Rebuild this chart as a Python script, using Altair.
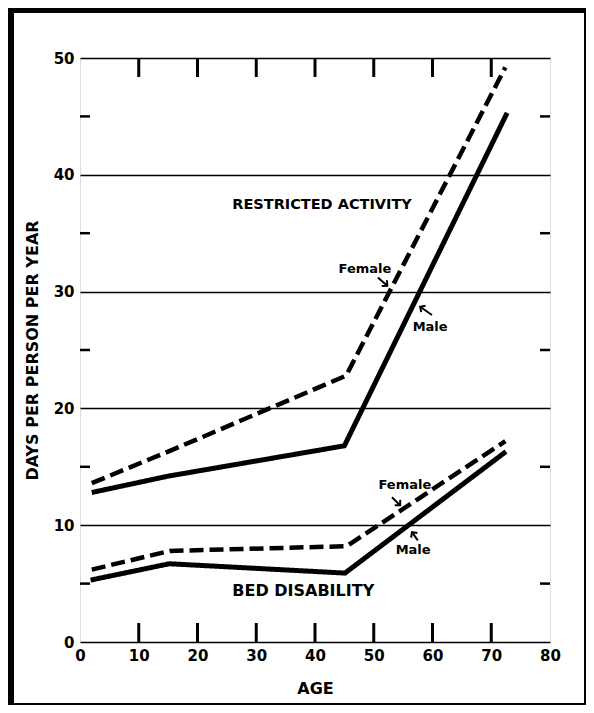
import altair as alt
import pandas as pd

# ---- data ----
ages_rest_male = [2, 15, 45, 72.7]
rest_male = [12.8, 14.2, 16.8, 45.3]
ages_rest_female = [2, 15, 45.3, 72.4]
rest_female = [13.6, 16.3, 22.8, 49.2]
ages_bed_male = [1.8, 15.2, 45.1, 72.5]
bed_male = [5.3, 6.7, 5.9, 16.3]
ages_bed_female = [2, 15.3, 45.4, 72.4]
bed_female = [6.2, 7.8, 8.2, 17.2]

x_labels = [0, 10, 20, 30, 40, 50, 60, 70, 80]
y_labels = [0, 10, 20, 30, 40, 50]
x_minor = [10, 20, 30, 40, 50, 60, 70]
y_minor = [5, 15, 25, 35, 45]

note_text = ["RESTRICTED ACTIVITY", "BED DISABILITY", "Female", "Male", "Female", "Male"]
note_age = [41.2, 38.0, 48.5, 59.6, 55.3, 56.7]
note_val = [37.4, 4.4, 31.9, 27.0, 13.4, 7.9]
note_size = [14.5, 16, 13, 13, 13, 13]

arrow_age = [50.7, 59.9, 53.1, 57.5]
arrow_val = [31.2, 28.0, 12.4, 8.7]
arrow_age2 = [52.3, 57.9, 54.5, 56.5]
arrow_val2 = [30.5, 28.7, 11.7, 9.4]
arrow_angle = [42, 214, 45, 233]

W, H = 470, 584

rows = []
for name, sex, ages, vals in [
    ("Restricted", "Male", ages_rest_male, rest_male),
    ("Restricted", "Female", ages_rest_female, rest_female),
    ("Bed", "Male", ages_bed_male, bed_male),
    ("Bed", "Female", ages_bed_female, bed_female),
]:
    for a, v in zip(ages, vals):
        rows.append({"series": name + " " + sex, "sex": sex, "age": a, "days": v})
lines_df = pd.DataFrame(rows)

xs = alt.Scale(domain=[0, 80], nice=False)
ys = alt.Scale(domain=[0, 50], nice=False)

FONT = "DejaVu Sans"

base_x = alt.X("age:Q", scale=xs, axis=alt.Axis(
    values=x_labels, title="AGE", grid=False, domain=False, tickSize=0,
    labelFont=FONT, labelFontSize=15, labelFontWeight="bold", labelColor="black",
    labelPadding=6, labelFlush=False, labelOverlap=False,
    titleFont=FONT, titleFontSize=16, titleFontWeight="bold", titleColor="black",
    titleX=W / 2, titleY=46, titleBaseline="middle", titleAlign="center"))
base_y = alt.Y("days:Q", scale=ys, axis=alt.Axis(
    values=y_labels, title="DAYS PER PERSON PER YEAR", grid=True, gridColor="black",
    gridWidth=1.6, gridOpacity=1, domain=False, tickSize=0,
    labelFont=FONT, labelFontSize=15, labelFontWeight="bold", labelColor="black",
    labelPadding=6, labelFlush=False, labelOverlap=False,
    titleFont=FONT, titleFontSize=16, titleFontWeight="bold", titleColor="black",
    titleAngle=270, titleX=-48, titleY=H / 2, titleBaseline="middle", titleAlign="center"))

lines = alt.Chart(lines_df).mark_line(color="black", strokeCap="butt", strokeJoin="miter").encode(
    x=base_x, y=base_y,
    detail="series:N",
    order=alt.Order("age:Q"),
    strokeDash=alt.StrokeDash("sex:N", scale=alt.Scale(domain=["Female", "Male"], range=[[14, 6], [1, 0]]), legend=None),
    strokeWidth=alt.StrokeWidth("sex:N", scale=alt.Scale(domain=["Female", "Male"], range=[4.5, 5]), legend=None),
)

xt_df = pd.DataFrame({"age": x_minor})
yt_df = pd.DataFrame({"days": y_minor})
ticks_bottom = alt.Chart(xt_df).mark_rule(color="black", strokeWidth=3).encode(
    x=alt.X("age:Q", scale=xs), y=alt.value(H), y2=alt.value(H - 19))
ticks_top = alt.Chart(xt_df).mark_rule(color="black", strokeWidth=3).encode(
    x=alt.X("age:Q", scale=xs), y=alt.value(0), y2=alt.value(19))
ticks_left = alt.Chart(yt_df).mark_rule(color="black", strokeWidth=2.5).encode(
    y=alt.Y("days:Q", scale=ys), x=alt.value(0), x2=alt.value(10))
ticks_right = alt.Chart(yt_df).mark_rule(color="black", strokeWidth=2.5).encode(
    y=alt.Y("days:Q", scale=ys), x=alt.value(W), x2=alt.value(W - 10))

notes_df = pd.DataFrame({"text": note_text, "age": note_age, "days": note_val, "size": note_size})
notes = alt.Chart(notes_df).mark_text(font=FONT, fontWeight="bold", color="black",
                                      align="center", baseline="middle").encode(
    x=alt.X("age:Q", scale=xs), y=alt.Y("days:Q", scale=ys), text="text:N",
    size=alt.Size("size:Q", scale=None, legend=None))

arr_df = pd.DataFrame({"age": arrow_age, "days": arrow_val, "age2": arrow_age2,
                       "days2": arrow_val2, "angle": arrow_angle})
shafts = alt.Chart(arr_df).mark_rule(color="black", strokeWidth=2).encode(
    x=alt.X("age:Q", scale=xs), y=alt.Y("days:Q", scale=ys), x2="age2:Q", y2="days2:Q")
heads = alt.Chart(arr_df).mark_point(shape="M -1 -1 L 0 0 L -1 1", filled=False, color="black",
                                     strokeWidth=2, size=60, opacity=1).encode(
    x=alt.X("age2:Q", scale=xs), y=alt.Y("days2:Q", scale=ys),
    angle=alt.Angle("angle:Q", scale=None))

one = pd.DataFrame({"k": [0]})
frame_left = alt.Chart(one).mark_rule(color="black", strokeWidth=6).encode(
    x=alt.value(-69), y=alt.value(-50), y2=alt.value(647))
frame_top = alt.Chart(one).mark_rule(color="black", strokeWidth=5).encode(
    y=alt.value(-47.5), x=alt.value(-72), x2=alt.value(506))
frame_right = alt.Chart(one).mark_rule(color="black", strokeWidth=2).encode(
    x=alt.value(505), y=alt.value(-50), y2=alt.value(647))
frame_bottom = alt.Chart(one).mark_rule(color="black", strokeWidth=2).encode(
    y=alt.value(646), x=alt.value(-72), x2=alt.value(506))

chart = alt.layer(
    lines, ticks_bottom, ticks_top, ticks_left, ticks_right, notes, shafts, heads,
    frame_left, frame_top, frame_right, frame_bottom
).properties(
    width=W, height=H,
    autosize=alt.AutoSizeParams(type="none"),
    padding={"left": 72, "top": 50, "right": 36, "bottom": 63},
).configure_view(stroke="black", strokeWidth=3).configure(background="white")

chart.save("out.html", embed_options={"renderer": "svg", "actions": False})
